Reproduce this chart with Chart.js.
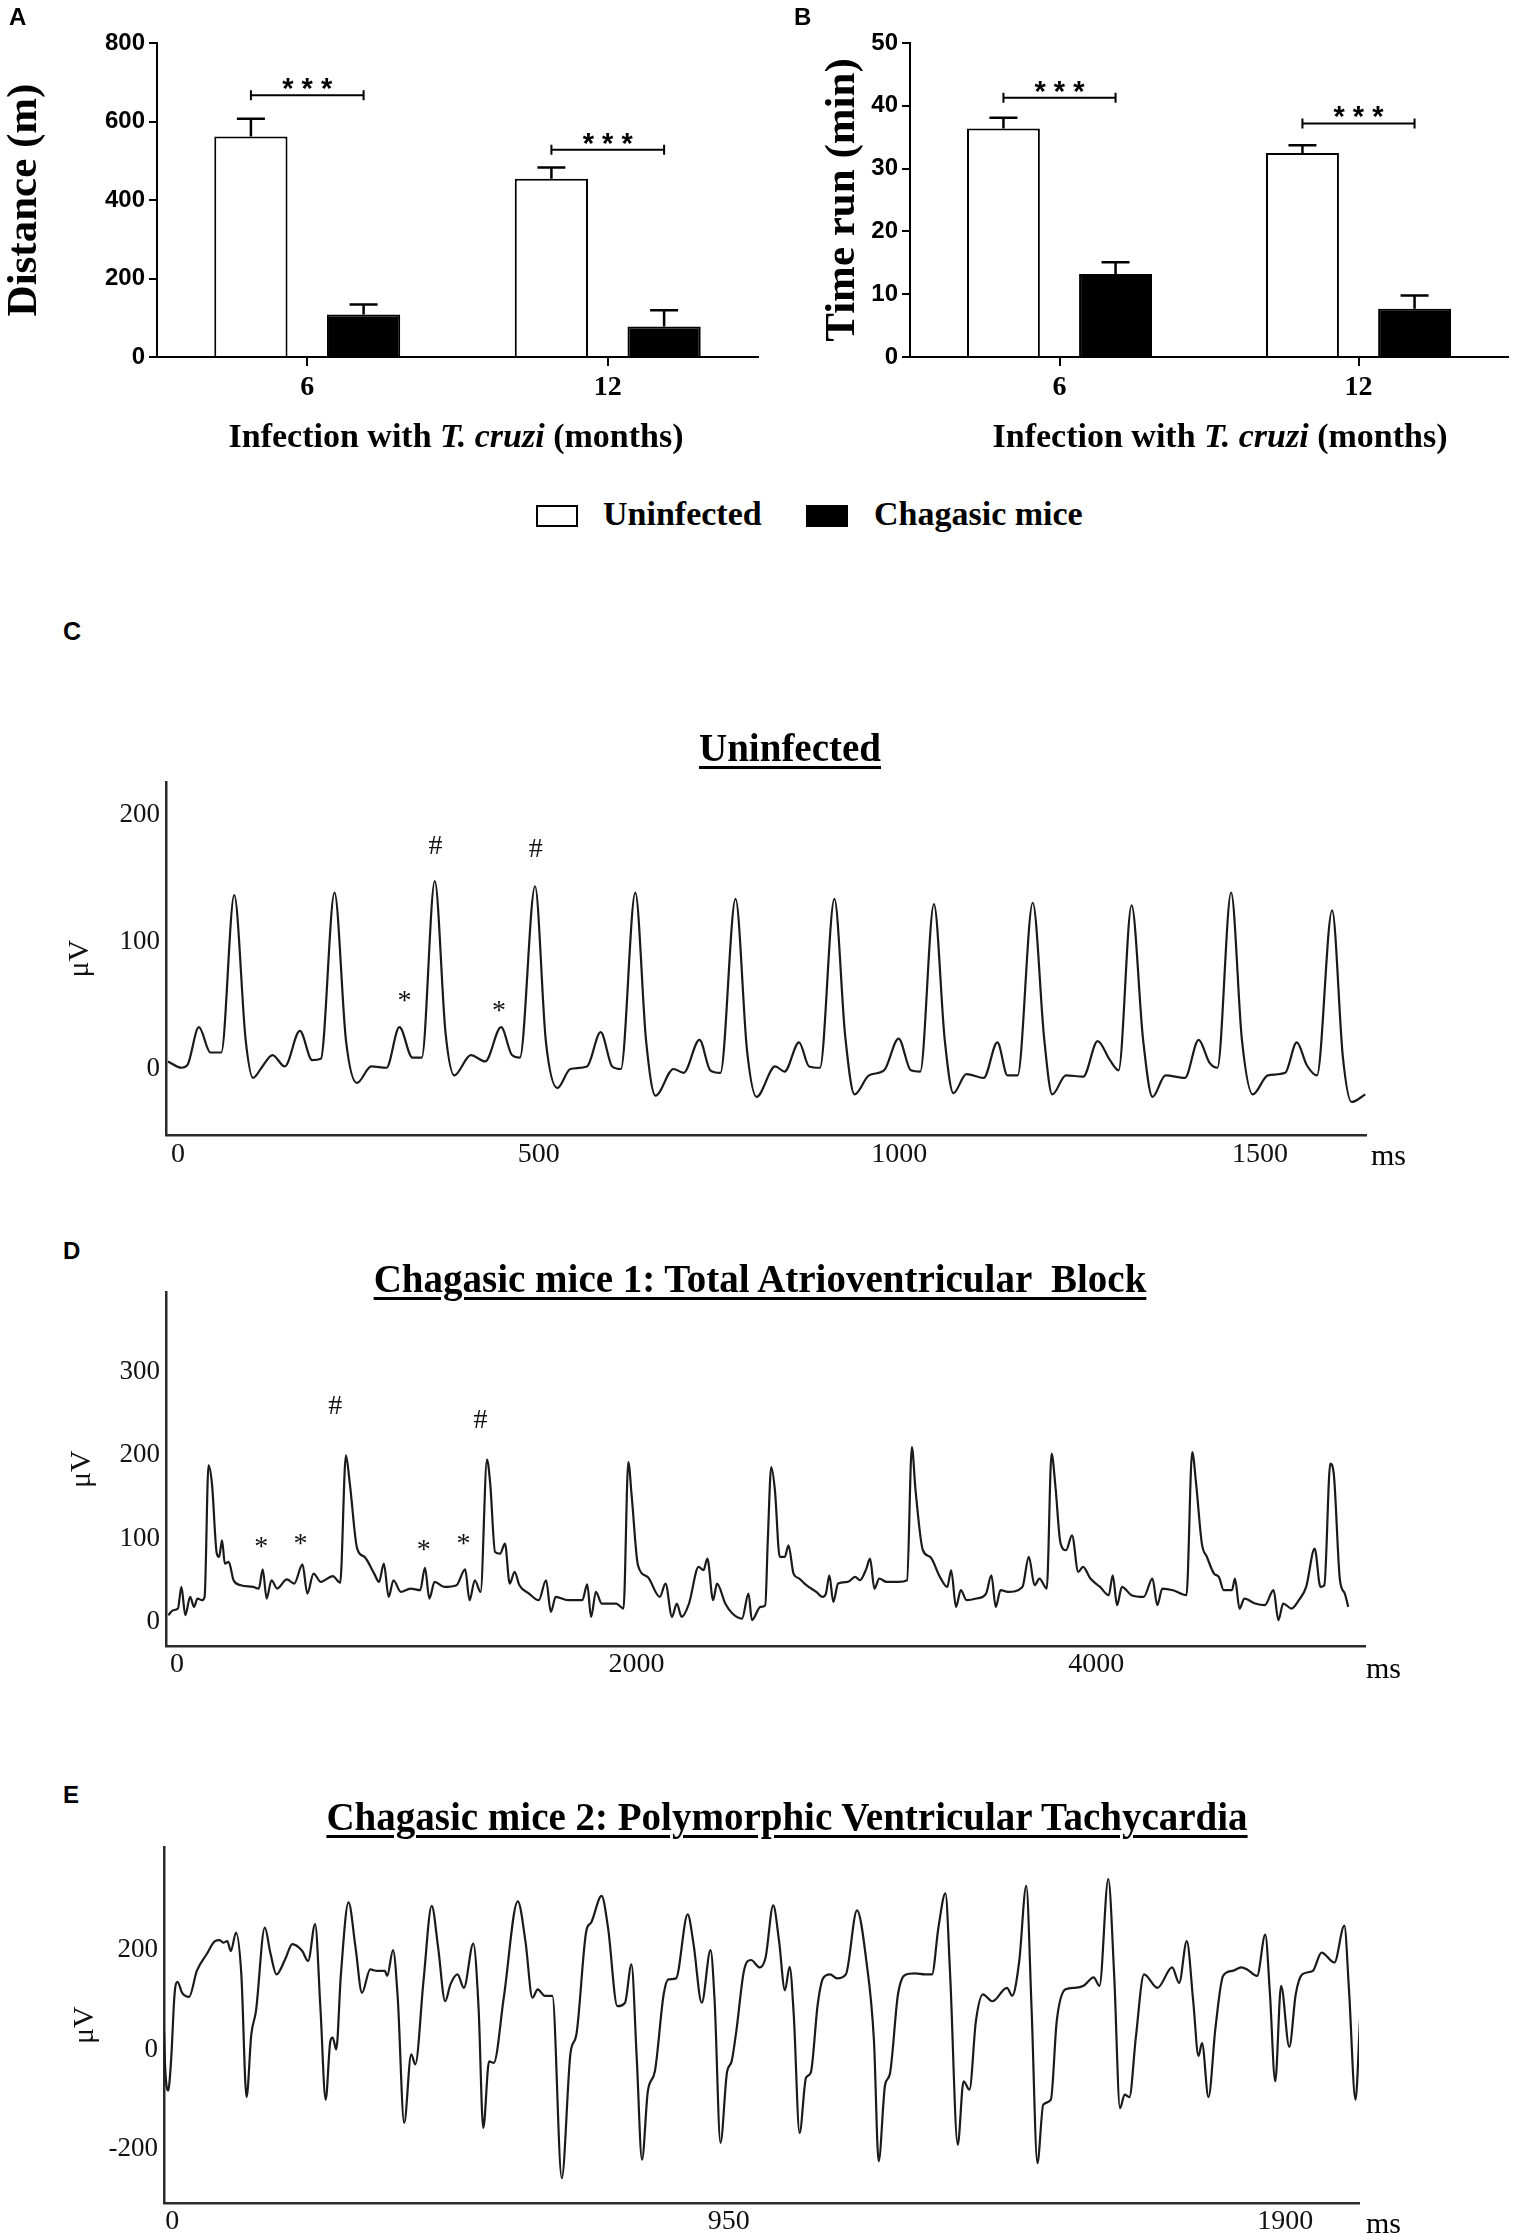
<!DOCTYPE html>
<html>
<head>
<meta charset="utf-8">
<script src="https://cdn.jsdelivr.net/npm/chart.js"></script>
<style>
  body { margin: 0; background: #fff; }
  #page { position: relative; width: 1521px; height: 2240px; overflow: hidden; background: #fff; }
  #page canvas { position: absolute; }
  .t { position: absolute; white-space: pre; line-height: 1; color: #000; }
  .serif { font-family: "Liberation Serif", "Times New Roman", serif; }
  .sans { font-family: "Liberation Sans", Arial, sans-serif; font-weight: bold; }
  .b { font-weight: bold; }
  .u { text-decoration: underline; text-decoration-thickness: 3px; text-underline-offset: 5px; }
  .swatch { position: absolute; box-sizing: border-box; border: 2px solid #000; }
</style>
</head>
<body>
<div id="page">
  <canvas id="chartA" width="760" height="470" style="left:0;top:0"></canvas>
  <canvas id="chartB" width="761" height="470" style="left:760px;top:0"></canvas>
  <canvas id="chartC" width="1521" height="440" style="left:0;top:760px"></canvas>
  <canvas id="chartD" width="1521" height="430" style="left:0;top:1270px"></canvas>
  <canvas id="chartE" width="1521" height="415" style="left:0;top:1825px"></canvas>

  <div class="t sans" style="left:9px;top:4.7px;font-size:24px">A</div>
  <div class="t sans" style="left:794px;top:4.7px;font-size:24px">B</div>
  <div class="t sans" style="left:63px;top:619px;font-size:25px">C</div>
  <div class="t sans" style="left:63px;top:1239px;font-size:24px">D</div>
  <div class="t sans" style="left:63px;top:1783px;font-size:24px">E</div>

  <div class="t serif b" style="left:156px;width:600px;text-align:center;top:418.5px;font-size:34px">Infection with <i>T. cruzi</i> (months)</div>
  <div class="t serif b" style="left:920px;width:600px;text-align:center;top:418.5px;font-size:34px">Infection with <i>T. cruzi</i> (months)</div>

  <div class="swatch" style="left:536px;top:505px;width:42px;height:22px;background:#fff"></div>
  <div class="t serif b" id="leg0" style="left:603px;top:496.5px;font-size:34px"></div>
  <div class="swatch" style="left:806px;top:505px;width:42px;height:22px;background:#000"></div>
  <div class="t serif b" id="leg1" style="left:874px;top:496.5px;font-size:34px"></div>

  <div class="t serif b u" style="left:290px;width:1000px;text-align:center;top:728px;font-size:39px">Uninfected</div>
  <div class="t serif b u" style="left:160px;width:1200px;text-align:center;top:1259.3px;font-size:39px">Chagasic mice 1: Total Atrioventricular  Block</div>
  <div class="t serif b u" style="left:187px;width:1200px;text-align:center;top:1797.3px;font-size:39px">Chagasic mice 2: Polymorphic Ventricular Tachycardia</div>

  <div class="t serif" style="left:1371px;top:1140px;font-size:30px">ms</div>
  <div class="t serif" style="left:1366px;top:1653px;font-size:30px">ms</div>
  <div class="t serif" style="left:1366px;top:2208px;font-size:30px">ms</div>
</div>

<script>
// ---------- panels A and B: treadmill test ----------
const months = ['6', '12'];
const seriesNames = ['Uninfected', 'Chagasic mice'];

const distUninf = [562, 454];
const distUninfSem = [45, 29];
const distChagasic = [108, 78];
const distChagasicSem = [26, 41];
const distBracket = [667, 528];
const distTicks = [0, 200, 400, 600, 800];

const timeUninf = [36.4, 32.5];
const timeUninfSem = [1.7, 1.2];
const timeChagasic = [13.2, 7.7];
const timeChagasicSem = [1.9, 2.1];
const timeBracket = [41.3, 37.2];
const timeTicks = [0, 10, 20, 30, 40, 50];

// ---------- panel C: uninfected ECG (ms, uV) ----------
const cTime = [-14, 5, 13, 29, 45, 60, 78, 94, 104, 117, 131, 148, 169, 186, 198, 217, 233, 248, 268, 289,
  307, 325, 338, 356, 371, 383, 406, 426, 448, 463, 474, 495, 510, 526, 544, 567, 586, 602, 614, 634,
  649, 662, 687, 701, 723, 738, 752, 773, 789, 802,
  828, 841, 861, 875, 890, 910, 925, 938, 958, 979, 999, 1016, 1029, 1048, 1063, 1075, 1093, 1117, 1136, 1150,
  1164, 1185, 1201, 1212, 1231, 1255, 1275, 1292, 1304, 1322, 1338, 1351, 1369, 1396, 1415, 1430, 1441, 1460, 1475, 1490,
  1511, 1535, 1551, 1565, 1579, 1600, 1615, 1627, 1646];
const cVolt = [6, 1, 3, 33, 13, 13, 137, 22, -7, 2, 11, 2, 30, 7, 8, 139, 22, -11, 2, 1,
  33, 9, 9, 148, 28, -5, 11, 6, 33, 11, 9, 144, 22, -15, 0, 2, 29, 2, 0, 139,
  22, -21, 0, -3, 23, -1, -3, 134, 14, -22,
  2, -2, 21, 2, 1, 134, 26, -20, -5, -1, 24, -1, -2, 130, 23, -19, -4, -7, 21, -5,
  -5, 131, 23, -20, -5, -6, 22, 7, -1, 129, 23, -22, -5, -7, 23, 5, 1, 139, 23, -20,
  -5, -3, 21, 3, -5, 125, 9, -26, -20];
const cTicksX = [0, 500, 1000, 1500];
const cTicksY = [0, 100, 200];
const cMarkSym = ['*', '#', '*', '#'];
const cMarkTime = [314, 357, 445, 496];
const cMarkVolt = [57, 175, 49, 173];

// ---------- panel D: total AV block ----------
const dTime = [-38, -17, 4, 19, 36, 57, 74, 89, 109, 120, 137, 152, 173, 183, 196, 208, 225, 246, 278, 331,
  356, 373, 390, 411, 436, 478, 510, 546, 567, 594, 626, 678, 710, 735, 752, 784, 816, 858, 879, 900,
  921, 942, 974, 1016, 1058, 1079, 1098, 1121, 1163, 1216, 1254, 1273, 1296, 1321, 1349, 1363, 1384, 1406, 1427, 1448,
  1469, 1490, 1532, 1574, 1606, 1627, 1648, 1701, 1764, 1785, 1802, 1823, 1848, 1911, 1943, 1964, 1979, 2006, 2048, 2101,
  2126, 2154, 2175, 2196, 2228, 2270, 2291, 2308, 2333, 2350, 2386, 2417, 2459, 2487, 2502,
  2539, 2560, 2571, 2586, 2602, 2623, 2645, 2661, 2683, 2708, 2739, 2782, 2809, 2824, 2839, 2856, 2877, 2919, 2951, 2972,
  3000, 3016, 3035, 3056, 3088, 3141, 3177, 3198, 3214, 3246, 3278, 3320, 3352, 3369, 3390, 3411, 3436, 3479, 3521, 3544,
  3563, 3584, 3616, 3679, 3707, 3732, 3753, 3785, 3806, 3823, 3844, 3869, 3895, 3922, 3943, 3975, 4017, 4055, 4072, 4091,
  4112, 4154, 4207, 4245, 4266, 4288, 4334, 4393, 4418, 4435, 4460, 4482, 4513, 4534, 4555, 4591, 4604, 4624, 4645, 4692,
  4734, 4772, 4793, 4814, 4850, 4882, 4914, 4951, 4976, 4993, 5019, 5034, 5061, 5082, 5097];
const dVolt = [8, 14, 16, 42, 8, 30, 18, 28, 26, 30, 188, 166, 82, 78, 98, 70, 72, 50, 44, 42,
  40, 63, 28, 50, 40, 51, 46, 69, 34, 58, 48, 55, 47, 200, 166, 88, 78, 58, 48, 70,
  30, 50, 36, 40, 38, 65, 28, 48, 42, 44, 63, 26, 50, 36, 195, 166, 84, 82, 94, 46,
  60, 44, 34, 26, 50, 12, 30, 26, 26, 45, 6, 36, 22, 22, 16, 192, 150, 68, 54, 30,
  46, 6, 22, 6, 22, 66, 62, 76, 26, 46, 22, 10, 4, 34, 2,
  18, 20, 98, 186, 158, 78, 78, 92, 58, 52, 44, 36, 30, 34, 56, 24, 46, 48, 54, 50,
  64, 76, 40, 52, 48, 48, 50, 210, 158, 86, 78, 54, 42, 62, 18, 38, 26, 28, 34, 56,
  18, 38, 36, 42, 78, 44, 52, 40, 202, 162, 96, 86, 104, 60, 66, 52, 42, 32, 56, 20,
  42, 32, 30, 52, 20, 40, 38, 32, 204, 166, 94, 78, 58, 54, 38, 38, 52, 16, 28, 22,
  20, 38, 2, 22, 16, 26, 42, 88, 42, 44, 190, 178, 50, 34, 18];
const dTicksX = [0, 2000, 4000];
const dTicksY = [0, 100, 200, 300];
const dMarkSym = ['*', '*', '#', '*', '*', '#'];
const dMarkTime = [366, 537, 689, 1074, 1247, 1321];
const dMarkVolt = [95, 99, 258, 91, 99, 242];

// ---------- panel E: polymorphic ventricular tachycardia ----------
const eTime = [-14, -12, -7, -2, 4, 9, 17, 29, 42, 59, 73, 81, 87, 94, 100, 109, 118, 127, 135, 143,
  158, 168, 178, 193, 205, 222, 232, 244, 253, 262, 270, 274, 280, 288, 301, 313, 324, 338, 350, 363,
  367, 377, 385, 396, 408, 415, 429, 443, 454, 466, 475, 487, 498, 514, 523, 531, 541, 549, 566, 590,
  603, 615, 624, 636, 649, 665, 680, 690, 707, 715, 733, 744, 760, 773, 784, 793, 802, 812, 824, 839,
  847, 860, 880, 890, 904, 919, 926, 936, 947, 955, 963, 976, 988,
  1003, 1013, 1026, 1036, 1046, 1054, 1061, 1071, 1082, 1090, 1102, 1111, 1123, 1135, 1150, 1169, 1185, 1198, 1206, 1217,
  1225, 1239, 1251, 1268, 1285, 1297, 1308, 1320, 1328, 1341, 1351, 1361, 1372, 1384, 1400, 1425, 1434, 1446, 1458, 1467,
  1477, 1487, 1500, 1510, 1525, 1541, 1556, 1573, 1583, 1598, 1608, 1618, 1626, 1634, 1645, 1659, 1682, 1707, 1719, 1732,
  1743, 1752, 1758, 1769, 1781, 1794, 1810, 1825, 1835, 1852, 1866, 1874, 1883, 1893, 1907, 1918, 1929, 1947, 1962, 1984,
  2001, 2009, 2020, 2028];
const eVolt = [37, -37, -83, -24, 111, 136, 114, 106, 158, 192, 218, 220, 215, 218, 198, 235, 151, -96, 30, 77,
  245, 192, 151, 182, 212, 198, 178, 252, 84, -101, 17, 24, 0, 151, 296, 205, 114, 161, 158, 158,
  148, 200, 104, -148, -10, -30, 138, 289, 205, 97, 131, 151, 124, 213, 84, -158, -24, -27, 104, 298,
  218, 104, 121, 108, 108, -259, -7, 30, 239, 255, 309, 245, 87, 94, 171, -17, -222, -84, -44, 111,
  141, 143, 272, 212, 94, 200, 97, -188, -47, -24, 37, 158, 180,
  165, 185, 290, 218, 119, 166, 71, -168, -57, -47, 91, 143, 151, 143, 151, 280, 178, 17, -225, -71,
  -50, 111, 150, 153, 151, 151, 245, 314, 151, -192, -64, -81, 57, 111, 97, 124, 108, 178, 329, 84,
  -229, -111, -101, 57, 121, 124, 128, 145, 128, 343, 151, -118, -91, -96, 24, 151, 124, 165, 134, 218,
  97, -13, 13, -96, 44, 148, 158, 165, 161, 148, 231, 111, -64, 128, 5, 111, 151, 158, 195, 175,
  249, 118, -101, 67];
const eTicksX = [0, 950, 1900];
const eTicksY = [-200, 0, 200];

const SERIF = '"Liberation Serif", "Times New Roman", serif';
const SANS = '"Liberation Sans", Arial, sans-serif';

document.getElementById('leg0').textContent = seriesNames[0];
document.getElementById('leg1').textContent = seriesNames[1];

// error bars (upper only) and significance brackets
function barExtras(errors, brackets) {
  return {
    id: 'barExtras',
    afterDatasetsDraw(chart) {
      const ctx = chart.ctx, y = chart.scales.y;
      ctx.save();
      ctx.strokeStyle = '#000';
      ctx.lineWidth = 2.5;
      errors.forEach((errs, di) => {
        const vals = chart.data.datasets[di].data;
        chart.getDatasetMeta(di).data.forEach((bar, i) => {
          const top = y.getPixelForValue(vals[i] + errs[i]);
          ctx.beginPath();
          ctx.moveTo(bar.x, bar.y);
          ctx.lineTo(bar.x, top);
          ctx.moveTo(bar.x - 14, top);
          ctx.lineTo(bar.x + 14, top);
          ctx.stroke();
        });
      });
      const m0 = chart.getDatasetMeta(0).data, m1 = chart.getDatasetMeta(1).data;
      ctx.lineWidth = 2;
      ctx.fillStyle = '#000';
      ctx.font = 'bold 29px ' + SANS;
      ctx.textAlign = 'center';
      ctx.textBaseline = 'alphabetic';
      brackets.forEach((v, i) => {
        const x1 = m0[i].x, x2 = m1[i].x, py = y.getPixelForValue(v);
        ctx.beginPath();
        ctx.moveTo(x1, py - 5); ctx.lineTo(x1, py + 5);
        ctx.moveTo(x1, py); ctx.lineTo(x2, py);
        ctx.moveTo(x2, py - 5); ctx.lineTo(x2, py + 5);
        ctx.stroke();
        ctx.fillText('* * *', (x1 + x2) / 2, py + 3);
      });
      ctx.restore();
    }
  };
}

function barChart(id, uninf, chag, errs, brackets, ticks, yTitle, o) {
  return new Chart(document.getElementById(id), {
    type: 'bar',
    data: {
      labels: months,
      datasets: [
        { label: seriesNames[0], data: uninf, backgroundColor: '#fff', borderColor: '#000', borderWidth: 2 },
        { label: seriesNames[1], data: chag, backgroundColor: '#000', borderColor: '#000', borderWidth: 2 }
      ]
    },
    options: {
      responsive: false,
      animation: false,
      datasets: { bar: { categoryPercentage: 0.75, barPercentage: 0.65 } },
      layout: { padding: { left: 0, right: o.padRight, top: 43, bottom: 0 } },
      plugins: { legend: { display: false }, tooltip: { enabled: false } },
      scales: {
        x: {
          type: 'category',
          offset: true,
          grid: { display: true, drawOnChartArea: false, drawTicks: true, tickLength: 9, offset: false, color: '#000', lineWidth: 2 },
          border: { display: true, color: '#000', width: 2 },
          ticks: { font: { family: SERIF, size: 28, weight: 'bold' }, color: '#000', padding: 5 },
          afterFit: s => { s.height = 113; }
        },
        y: {
          min: ticks[0],
          max: ticks[ticks.length - 1],
          afterBuildTicks: s => { s.ticks = ticks.map(v => ({ value: v })); },
          grid: { display: true, drawOnChartArea: false, drawTicks: true, tickLength: 8, color: '#000', lineWidth: 2 },
          border: { display: true, color: '#000', width: 2 },
          ticks: { font: { family: SANS, size: 24, weight: 'bold' }, color: '#000', padding: 4 },
          title: { display: true, text: yTitle, color: '#000', font: { family: SERIF, size: 43, weight: 'bold', lineHeight: 1 }, padding: { top: o.titlePad, bottom: 0 } },
          afterFit: s => { s.width = o.axisW; }
        }
      }
    },
    plugins: [barExtras(errs, brackets)]
  });
}

barChart('chartA', distUninf, distChagasic, [distUninfSem, distChagasicSem], distBracket, distTicks,
  'Distance (m)', { padRight: 2, axisW: 157, titlePad: 3 });
barChart('chartB', timeUninf, timeChagasic, [timeUninfSem, timeChagasicSem], timeBracket, timeTicks,
  'Time run (min)', { padRight: 13, axisW: 150, titlePad: 61 });

// '#' and '*' annotations above the ECG waves
function ecgMarks(sym, times, volts) {
  return {
    id: 'ecgMarks',
    afterDatasetsDraw(chart) {
      const ctx = chart.ctx, xs = chart.scales.x, ys = chart.scales.y;
      ctx.save();
      ctx.fillStyle = '#111';
      ctx.font = '28px ' + SERIF;
      ctx.textAlign = 'center';
      ctx.textBaseline = 'middle';
      sym.forEach((s, i) => {
        const dy = s === '*' ? 5 : 0;
        ctx.fillText(s, xs.getPixelForValue(times[i]), ys.getPixelForValue(volts[i]) + dy);
      });
      ctx.restore();
    }
  };
}

function ecgChart(id, times, volts, o) {
  const pts = times.map((t, i) => ({ x: t, y: volts[i] }));
  return new Chart(document.getElementById(id), {
    type: 'line',
    data: {
      datasets: [{
        data: pts,
        borderColor: '#1a1a1a',
        borderWidth: 2.2,
        pointRadius: 0,
        fill: false,
        cubicInterpolationMode: 'monotone'
      }]
    },
    options: {
      responsive: false,
      animation: false,
      layout: { padding: { left: 0, right: o.padRight, top: o.padTop, bottom: 0 } },
      plugins: { legend: { display: false }, tooltip: { enabled: false } },
      scales: {
        x: {
          type: 'linear',
          min: o.xMin,
          max: o.xMax,
          afterBuildTicks: s => { s.ticks = o.xTicks.map(v => ({ value: v })); },
          grid: { display: false, drawTicks: false },
          border: { display: true, color: '#2a2a2a', width: 2.5 },
          ticks: { font: { family: SERIF, size: 28 }, color: '#111', padding: o.xPad, maxRotation: 0, autoSkip: false, callback: v => String(v) },
          afterFit: s => { s.height = o.xH; }
        },
        y: {
          min: o.yMin,
          max: o.yMax,
          afterBuildTicks: s => { s.ticks = o.yTicks.map(v => ({ value: v })); },
          grid: { display: false, drawTicks: false },
          border: { display: true, color: '#2a2a2a', width: 2.5 },
          ticks: { font: { family: SERIF, size: 27 }, color: '#111', padding: 6, callback: v => String(v) },
          title: { display: true, text: 'μV', color: '#111', font: { family: SERIF, size: 30, lineHeight: 1 }, padding: { top: o.titlePad, bottom: 0 } },
          afterFit: s => { s.width = o.yW; }
        }
      }
    },
    plugins: [ecgMarks(o.sym, o.markT, o.markV)]
  });
}

ecgChart('chartC', cTime, cVolt, {
  xMin: -16.6, xMax: 1647, xTicks: cTicksX, yMin: -52, yMax: 226, yTicks: cTicksY,
  padRight: 155, padTop: 19, xH: 65, yW: 166, xPad: 3, titlePad: 65,
  sym: cMarkSym, markT: cMarkTime, markV: cMarkVolt
});
ecgChart('chartD', dTime, dVolt, {
  xMin: -48, xMax: 5170, xTicks: dTicksX, yMin: -29, yMax: 396, yTicks: dTicksY,
  padRight: 156, padTop: 22, xH: 54, yW: 166, xPad: 2, titlePad: 67,
  sym: dMarkSym, markT: dMarkTime, markV: dMarkVolt
});
ecgChart('chartE', eTime, eVolt, {
  xMin: -14, xMax: 2026, xTicks: eTicksX, yMin: -309, yMax: 407, yTicks: eTicksY,
  padRight: 162, padTop: 20, xH: 37, yW: 164, xPad: 2, titlePad: 70,
  sym: [], markT: [], markV: []
});
</script>
</body>
</html>
